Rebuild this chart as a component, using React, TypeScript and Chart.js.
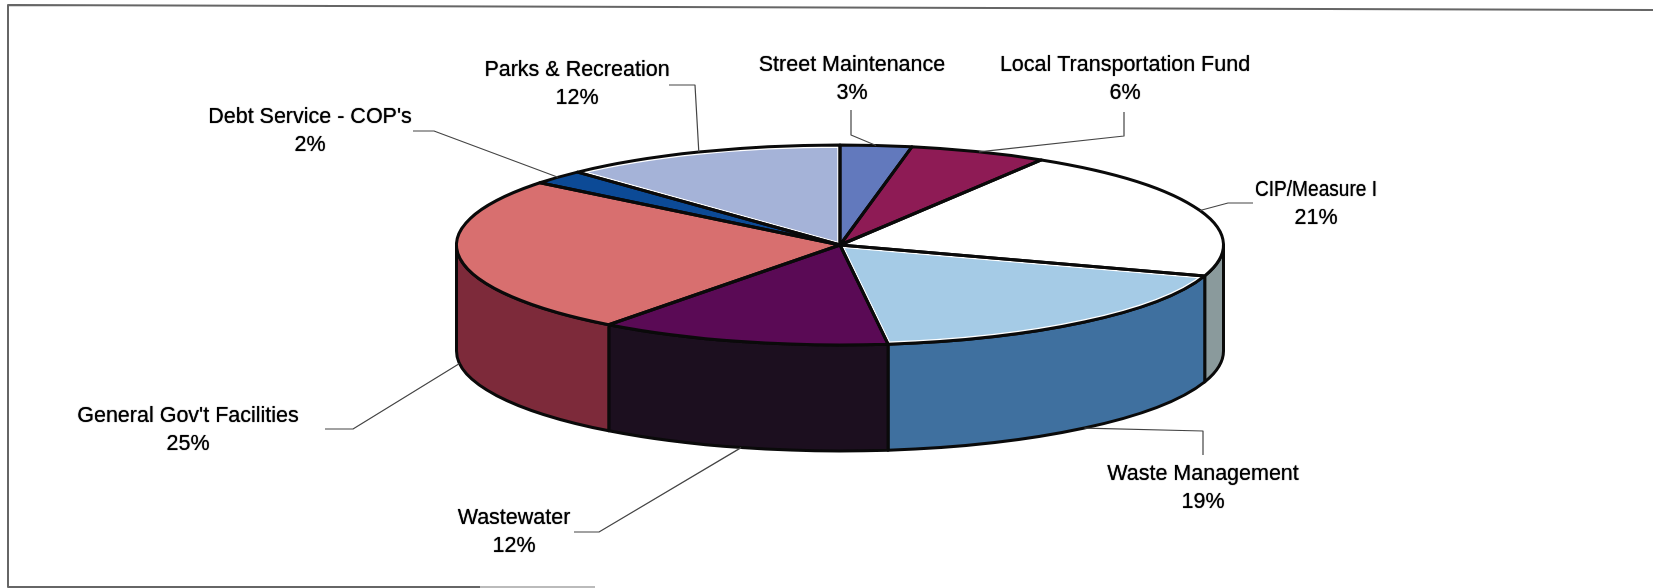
import React, { useEffect, useRef } from "react";
import { Chart, registerables } from "chart.js";

Chart.register(...registerables);

const categories = [
  "Street Maintenance",
  "Local Transportation Fund",
  "CIP/Measure I",
  "Waste Management",
  "Wastewater",
  "General Gov't Facilities",
  "Debt Service - COP's",
  "Parks & Recreation",
];
// Percentages as printed on the chart.
const printedPercents = [3, 6, 21, 19, 12, 25, 2, 12];
const wedgeShares = [3, 5.8, 21.2, 18, 12.3, 25.4, 2.3, 12];
const topColors = ["#6279bd", "#8e1b55", "#ffffff", "#a5cbe6", "#5a0a55", "#d86f6f", "#0c4a96", "#a5b3d8"];
const wallColors = ["#33406a", "#4e0f30", "#8a9a9c", "#3f709f", "#1c0f1f", "#7d2a3a", "#06284f", "#5a6278"];
const whiteEdged = [3, 7];

// Label layout: text centre x, first-line y, max text width, and the leader's elbow points.
const labelX = [852, 1125, 1316, 1203, 514, 188, 310, 577];
const labelY = [65, 65, 190, 474, 518, 416, 117, 70];
const labelMaxW = [400, 400, 122, 400, 400, 400, 400, 400];
const leaderElbows: number[][][] = [
  [[851, 135], [851, 110]],
  [[1124, 136], [1124, 112]],
  [[1228, 203], [1253, 203]],
  [[1203, 431], [1203, 455]],
  [[599, 532], [574, 532]],
  [[353, 429], [325, 429]],
  [[434, 131], [413, 131]],
  [[695, 85], [669, 85]],
];

const CX = 840;
const CY = 245;
const RX = 383.5;
const RY = 100;
const DEPTH = 106;

const sectorPath = (ctx: any, arc: any) => {
  ctx.beginPath();
  ctx.moveTo(arc.x, CY);
  ctx.ellipse(arc.x, CY, RX, RY, 0, arc.startAngle, arc.endAngle);
  ctx.closePath();
};

const pie3d = {
  id: "pie3d",
  beforeDatasetsDraw(chart: any) {
    const { ctx } = chart;
    const arcs = chart.getDatasetMeta(0).data;
    // side walls of the disc, from each slice's own angles
    arcs.forEach((arc: any, i: number) => {
      const a0 = Math.max(arc.startAngle, 0);
      const a1 = Math.min(arc.endAngle, Math.PI);
      if (a1 <= a0) return;
      ctx.beginPath();
      ctx.ellipse(arc.x, CY, RX, RY, 0, a0, a1);
      ctx.ellipse(arc.x, CY + DEPTH, RX, RY, 0, a1, a0, true);
      ctx.closePath();
      ctx.fillStyle = wallColors[i];
      ctx.fill();
      ctx.strokeStyle = "#0a0a0a";
      ctx.lineWidth = 3;
      ctx.lineJoin = "round";
      ctx.stroke();
    });
    ctx.save();
    ctx.translate(CX, CY);
    ctx.scale(1, RY / RX);
    ctx.translate(-CX, -CY);
  },
  afterDatasetsDraw(chart: any) {
    const { ctx } = chart;
    ctx.restore();
    const arcs = chart.getDatasetMeta(0).data;
    // thin white inner edge on some slices
    whiteEdged.forEach((i) => {
      ctx.save();
      sectorPath(ctx, arcs[i]);
      ctx.clip();
      sectorPath(ctx, arcs[i]);
      ctx.strokeStyle = "#ffffff";
      ctx.lineWidth = 5.5;
      ctx.stroke();
      ctx.restore();
    });
    arcs.forEach((arc: any) => {
      sectorPath(ctx, arc);
      ctx.strokeStyle = "#0a0a0a";
      ctx.lineWidth = 3;
      ctx.lineJoin = "round";
      ctx.stroke();
    });

    // leaders and labels
    arcs.forEach((arc: any, i: number) => {
      const mid = (arc.startAngle + arc.endAngle) / 2;
      const px = arc.x + RX * Math.cos(mid);
      const s = Math.sin(mid);
      const py = CY + RY * s + (s > 0 ? DEPTH : 0);
      ctx.beginPath();
      ctx.moveTo(px, py);
      leaderElbows[i].forEach(([x, y]) => ctx.lineTo(x, y));
      ctx.strokeStyle = "#444";
      ctx.lineWidth = 1.2;
      ctx.stroke();

      ctx.save();
      ctx.fillStyle = "#000";
      ctx.shadowColor = "rgba(0,0,0,0.9)";
      ctx.shadowBlur = 1;
      ctx.font = "21.5px 'Liberation Sans'";
      ctx.textAlign = "center";
      ctx.textBaseline = "middle";
      ctx.fillText(categories[i], labelX[i], labelY[i], labelMaxW[i]);
      ctx.fillText(printedPercents[i] + "%", labelX[i], labelY[i] + 28.5);
      ctx.restore();
    });

    // scanned page frame
    ctx.beginPath();
    ctx.moveTo(1653, 10);
    ctx.lineTo(8, 5);
    ctx.lineTo(8, 587);
    ctx.lineTo(480, 587);
    ctx.strokeStyle = "#666";
    ctx.lineWidth = 2;
    ctx.stroke();
    ctx.beginPath();
    ctx.moveTo(480, 587);
    ctx.lineTo(595, 587);
    ctx.strokeStyle = "#bbb";
    ctx.stroke();
  },
};

export default function App() {
  const ref = useRef<HTMLCanvasElement>(null);
  useEffect(() => {
    const chart = new Chart(ref.current!, {
      type: "pie",
      data: {
        labels: categories,
        datasets: [
          {
            data: wedgeShares,
            backgroundColor: topColors,
            borderWidth: 0,
            clip: false,
          } as any,
        ],
      },
      options: {
        animation: false,
        responsive: false,
        radius: RX,
        layout: { padding: { left: 2 * CX - 1653, bottom: 588 - 2 * CY } },
        plugins: { legend: { display: false }, tooltip: { enabled: false } },
      } as any,
      plugins: [pie3d],
    });
    return () => chart.destroy();
  }, []);
  return (
    <canvas
      ref={ref}
      width={1653}
      height={588}
      style={{ position: "absolute", left: 0, top: 0, display: "block", width: 1653, height: 588 }}
    />
  );
}
